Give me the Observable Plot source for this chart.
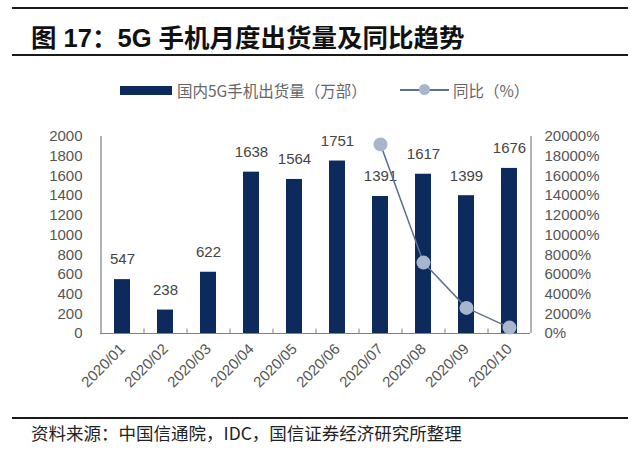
<!DOCTYPE html>
<html>
<head>
<meta charset="utf-8">
<script src="https://cdn.jsdelivr.net/npm/d3@7"></script>
<script src="https://cdn.jsdelivr.net/npm/@observablehq/plot@0.6"></script>
<style>
  body { margin:0; width:640px; height:460px; position:relative; background:#fff;
         font-family: "Liberation Sans", Arial, "Noto Sans CJK SC", sans-serif; overflow:hidden; }
  .hr { position:absolute; left:12px; width:616px; height:2px; background:#1a1a1a; }
  #title { position:absolute; left:31px; top:17px; font-size:25.5px; font-weight:bold; color:#111;
           font-family: "Liberation Sans", "Noto Sans CJK SC", sans-serif; white-space:nowrap; }
  .leg { position:absolute; font-size:15.5px; color:#666; white-space:nowrap;
         font-family: "Noto Sans CJK SC", sans-serif; line-height:20px; }
  #chart { position:absolute; left:0; top:115px; }
  #foot { position:absolute; left:31px; top:421px; font-size:17.5px; color:#222; white-space:nowrap;
          font-family: "Noto Sans CJK SC", sans-serif; line-height:24px; }
</style>
</head>
<body>
<div class="hr" style="top:7px"></div>
<div id="title">图 17：5G 手机月度出货量及同比趋势</div>
<div class="hr" style="top:54px"></div>

<div style="position:absolute;left:120px;top:86px;width:52px;height:9px;background:#0c2a5c"></div>
<div class="leg" style="left:177px;top:80px">国内5G手机出货量（万部）</div>
<div style="position:absolute;left:400px;top:89px;width:49px;height:1.5px;background:#5d7190"></div>
<div style="position:absolute;left:419px;top:84px;width:11px;height:11px;border-radius:50%;background:#a7b6cc"></div>
<div class="leg" style="left:453px;top:80px">同比（%）</div>

<div id="chart"></div>

<div class="hr" style="top:417px"></div>
<div id="foot">资料来源：中国信通院，IDC，国信证券经济研究所整理</div>

<script>
const months = ["2020/01","2020/02","2020/03","2020/04","2020/05","2020/06","2020/07","2020/08","2020/09","2020/10"];
const shipments = [547, 238, 622, 1638, 1564, 1751, 1391, 1617, 1399, 1676];
const yoyMonths = ["2020/07","2020/08","2020/09","2020/10"];
const yoyValues = [19200, 7200, 2600, 600];
const leftTicks = [0,200,400,600,800,1000,1200,1400,1600,1800,2000];
const rightTicks = [0,2000,4000,6000,8000,10000,12000,14000,16000,18000,20000];

const bars = months.map((m, i) => ({month: m, value: shipments[i]}));
const yoy = yoyMonths.map((m, i) => ({month: m, yoy: yoyValues[i]}));
const ratio = 20000 / 2000; // right axis max / left axis max
const axisColor = "#808080";
const half = 21.5;

const chart = Plot.plot({
  width: 640,
  height: 295,
  marginLeft: 100,
  marginRight: 110,
  marginTop: 21,
  marginBottom: 77,
  style: {fontFamily: "'Liberation Sans', Arial, sans-serif", background: "transparent"},
  x: {type: "band", domain: months, paddingInner: 0.63, paddingOuter: 0.315, axis: null, label: null},
  y: {domain: [0, 2000], axis: null, label: null},
  marks: [
    Plot.barY(bars, {x: "month", y: "value", fill: "#0c2a5c"}),
    Plot.ruleY([0], {stroke: axisColor, strokeWidth: 1.2}),
    Plot.ruleX([months[0]], {dx: -half, y1: 0, y2: 2000, stroke: axisColor, strokeWidth: 1.2}),
    Plot.ruleX([months[months.length-1]], {dx: half, y1: 0, y2: 2000, stroke: axisColor, strokeWidth: 1.2}),
    Plot.ruleX(months.slice(1), {dx: -half, y1: 0, y2: 45, stroke: axisColor, strokeWidth: 1}),
    Plot.axisY({anchor: "left", ticks: leftTicks, tickSize: 0, tickPadding: 18, fontSize: 15, color: "#555", label: null, tickFormat: d => String(d)}),
    Plot.axisY({anchor: "right", ticks: rightTicks.map(v => v / ratio), tickSize: 0, tickPadding: 14, fontSize: 15, color: "#555", label: null,
      tickFormat: d => Math.round(d * ratio) + "%"}),
    Plot.axisX({tickRotate: -45, tickSize: 0, tickPadding: 13, fontSize: 15, color: "#555", label: null}),
    Plot.text(bars, {x: "month", y: "value", text: d => String(d.value), dy: -20, fontSize: 15, fill: "#444"}),
    Plot.line(yoy, {x: "month", y: d => d.yoy / ratio, stroke: "#5d7190", strokeWidth: 1.5}),
    Plot.dot(yoy, {x: "month", y: d => d.yoy / ratio, r: 7, fill: "#a7b6cc", stroke: "none"})
  ]
});
document.getElementById("chart").appendChild(chart);
</script>
</body>
</html>
